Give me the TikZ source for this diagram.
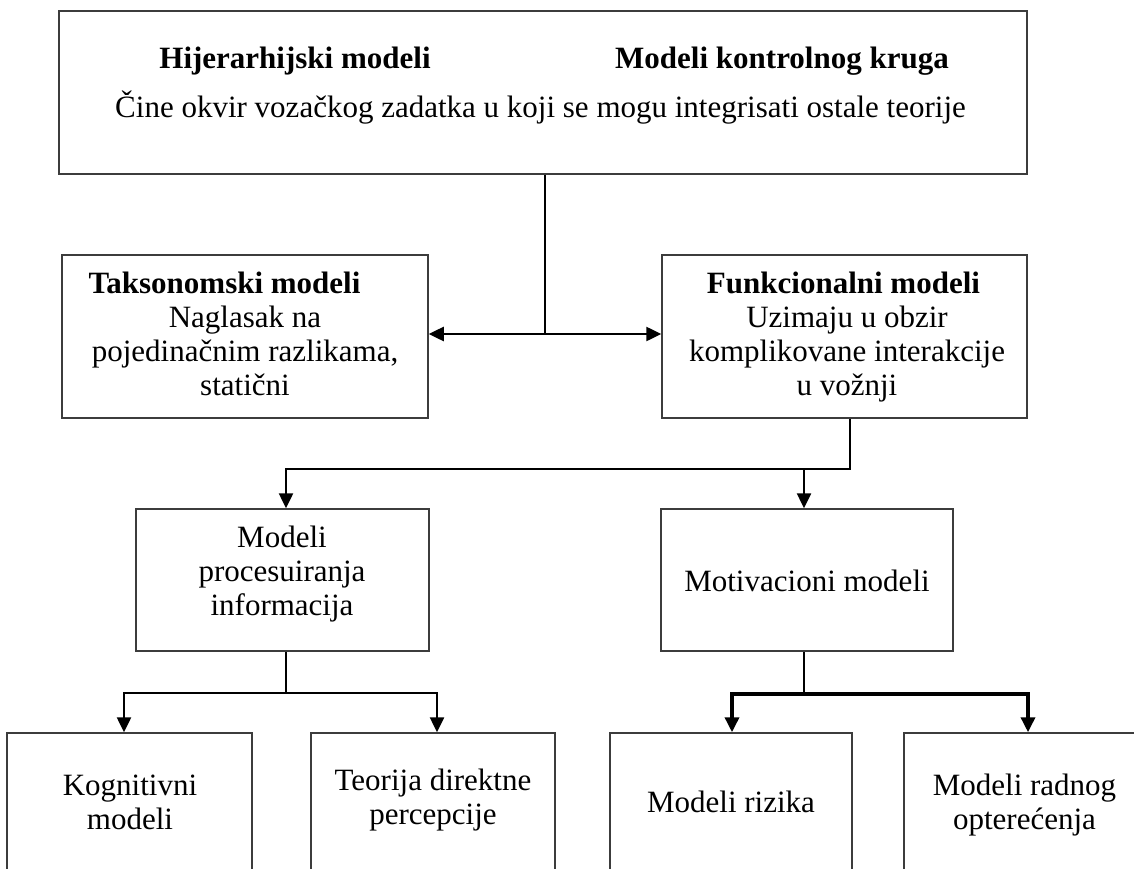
\documentclass[tikz,border=0pt]{standalone}
\usepackage{fontspec}
\setmainfont{Liberation Serif}
\usetikzlibrary{arrows.meta}
\definecolor{boxgray}{RGB}{60,60,60}
\newcommand\mylines[1]{\begin{tabular}[t]{@{}c@{}}#1\end{tabular}}
\begin{document}
\begin{tikzpicture}[x=1pt,y=-1pt,
  box/.style={draw=boxgray, line width=1.5pt, inner sep=0pt, fill=white},
  txt/.style={inner sep=0pt, anchor=base, font=\fontsize{31}{34}\selectfont},
  ttl/.style={inner sep=0pt, anchor=base, font=\fontsize{31}{34}\selectfont\bfseries},
  conn/.style={draw=black, line width=2.5pt},
  thickconn/.style={draw=black, line width=3.5pt},
  arr/.style={-{Triangle[length=15pt,width=14pt]}},
  darr/.style={{Triangle[length=15pt,width=14pt]}-{Triangle[length=15pt,width=14pt]}}]
\clip (0,0) rectangle (1134,869);
\fill[white] (0,0) rectangle (1134,869);

% boxes
\node[box, minimum width=968pt, minimum height=163pt] (top) at (543,92.5) {};
\node[box, minimum width=366pt, minimum height=163pt] (tax) at (245,336.5) {};
\node[box, minimum width=365pt, minimum height=163pt] (fun) at (844.5,336.5) {};
\node[box, minimum width=293pt, minimum height=142pt] (proc) at (282.5,580) {};
\node[box, minimum width=292pt, minimum height=142pt] (motiv) at (807,580) {};
\node[box, minimum width=245pt, minimum height=150pt] (kog) at (129.5,808) {};
\node[box, minimum width=244pt, minimum height=150pt] (teo) at (433,808) {};
\node[box, minimum width=242pt, minimum height=150pt] (riz) at (731,808) {};
\node[box, minimum width=246pt, minimum height=150pt] (rad) at (1027,808) {};

% texts
\node[ttl] (t1) at (295,69) {Hijerarhijski modeli};
\node[ttl] (t2) at (782,69) {Modeli kontrolnog kruga};
\node[txt] (t3) at (540.5,118) {Čine okvir vozačkog zadatka u koji se mogu integrisati ostale teorije};
\node[ttl] (taxt) at (224.5,293) {Taksonomski modeli};
\node[txt] (taxb) at (245,327) {\mylines{Naglasak na\\pojedinačnim razlikama,\\statični}};
\node[ttl] (funt) at (843.5,293) {Funkcionalni modeli};
\node[txt] (funb) at (847,327) {\mylines{Uzimaju u obzir\\komplikovane interakcije\\u vožnji}};
\node[txt] (proct) at (282,547) {\mylines{Modeli\\procesuiranja\\informacija}};
\node[txt] (motivt) at (807,591) {Motivacioni modeli};
\node[txt] (kogt) at (130,795) {\mylines{Kognitivni\\modeli}};
\node[txt] (teot) at (433,790) {\mylines{Teorija direktne\\percepcije}};
\node[txt] (rizt) at (731,812) {Modeli rizika};
\node[txt] (radt) at (1024.5,795) {\mylines{Modeli radnog\\opterećenja}};

% connectors
\coordinate (j1) at (545,334);
\draw[conn] (top.south -| j1) -- (j1);
\draw[conn,darr] (tax.east |- j1) -- (fun.west |- j1);

\coordinate (j2) at (850,469);
\coordinate (p1) at (286,469);
\coordinate (m1) at (804,469);
\draw[conn,arr] (fun.south -| j2) -- (j2) -| (p1 |- proc.north);
\draw[conn,arr] (m1) -- (m1 |- motiv.north);

\coordinate (j3) at (286,693);
\coordinate (k1) at (124,693);
\coordinate (k2) at (437,693);
\draw[conn] (proc.south -| j3) -- (j3);
\draw[conn,arr] (j3) -| (k1 |- kog.north);
\draw[conn,arr] (j3) -| (k2 |- teo.north);

\coordinate (j4) at (804,694);
\coordinate (r1) at (732,694);
\coordinate (r2) at (1028,694);
\draw[conn] (motiv.south -| j4) -- (j4);
\draw[thickconn,arr] (j4) -| (r1 |- riz.north);
\draw[thickconn,arr] (j4) -| (r2 |- rad.north);
\end{tikzpicture}
\end{document}
